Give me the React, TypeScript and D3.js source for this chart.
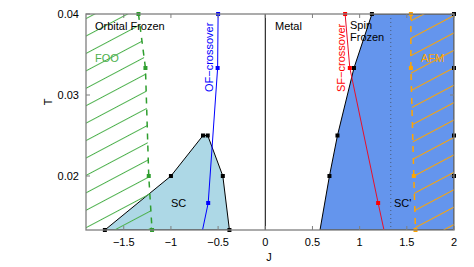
import React from 'react';
import * as d3 from 'd3';

type Pt = { J: number, T: number, mark?: boolean };

// temperatures used in the simulation: T = 1/beta
const tTop = 1 / 25;
const tBottom = 1 / 75;

const xTickValues = [-1.5, -1, -0.5, 0, 0.5, 1, 1.5, 2];
const yTickValues = [0.02, 0.03, 0.04];

const scBoundary: Pt[] = [
  { J: -1.7, T: 1 / 75, mark: true },
  { J: -1.0, T: 1 / 50, mark: true },
  { J: -0.66, T: 1 / 40, mark: true },
  { J: -0.61, T: 1 / 40, mark: true },
  { J: -0.45, T: 1 / 50, mark: true },
  { J: -0.38, T: 1 / 75, mark: true },
];

const metalEdge: Pt[] = [
  { J: 0.58, T: 1 / 75 },
  { J: 0.68, T: 1 / 50, mark: true },
  { J: 0.765, T: 1 / 40, mark: true },
  { J: 0.94, T: 1 / 30, mark: true },
  { J: 1.13, T: 1 / 25, mark: true },
  { J: 2, T: 1 / 25, mark: true },
  { J: 2, T: 1 / 30, mark: true },
  { J: 2, T: 1 / 40, mark: true },
  { J: 2, T: 1 / 50, mark: true },
  { J: 2, T: 1 / 75 },
];

const ofCrossover: Pt[] = [
  { J: -0.5, T: 1 / 25, mark: true },
  { J: -0.505, T: 1 / 30, mark: true },
  { J: -0.605, T: 1 / 60, mark: true },
  { J: -0.68, T: 1 / 80 },
];

const sfCrossover: Pt[] = [
  { J: 0.846, T: 1 / 25, mark: true },
  { J: 0.896, T: 1 / 30, mark: true },
  { J: 1.196, T: 1 / 60, mark: true },
  { J: 1.32, T: 1 / 100 },
];

const fooLine: Pt[] = [
  { J: -1.344, T: 1 / 25, mark: true },
  { J: -1.27, T: 1 / 30, mark: true },
  { J: -1.235, T: 1 / 50, mark: true },
  { J: -1.2, T: 1 / 75, mark: true },
];

const afmLine: Pt[] = [
  { J: 1.543, T: 1 / 25, mark: true },
  { J: 1.543, T: 1 / 30, mark: true },
  { J: 1.574, T: 1 / 50, mark: true },
  { J: 1.592, T: 1 / 75, mark: true },
];

const scPrimeJ = 1.33;

const App: React.FC = () => {
  const width = 474;
  const height = 267;
  const left = 86;
  const right = 454;
  const top = 14;
  const bottom = 230;

  const x = d3.scaleLinear().domain([-1.9, 2]).range([left, right]);
  const y = d3.scaleLinear().domain([tBottom, tTop]).range([bottom, top]);

  const line = d3.line<Pt>().x(d => x(d.J)).y(d => y(d.T));
  const poly = (pts: Pt[]) => line(pts) + 'Z';

  const green = '#2e9e2e';
  const hatchGreen = '#4cb04c';
  const orange = '#ffa500';
  const font = 'Liberation Sans, Arial, sans-serif';
  const grey = '#7f7f7f';

  // regions for the hatching: between plot edge and the freezing lines
  const fooRegion: Pt[] = [{ J: -1.9, T: tTop }, ...fooLine, { J: -1.9, T: tBottom }];
  const afmRegion: Pt[] = [...afmLine, { J: 2, T: tBottom }, { J: 2, T: tTop }];

  const marks = (pts: Pt[], color: string, key: string) =>
    pts.filter(p => p.mark).map((p, i) => (
      <rect key={key + i} x={x(p.J) - 2} y={y(p.T) - 2} width={4} height={4} fill={color} />
    ));

  return (
    <svg width={width} height={height} style={{ position: 'absolute', left: 0, top: 0, background: '#fff' }} fontFamily={font}>
      <defs>
        <clipPath id="plot"><rect x={left} y={top} width={right - left} height={bottom - top} /></clipPath>
        <clipPath id="fooClip"><path d={poly(fooRegion)} /></clipPath>
        <clipPath id="afmClip"><path d={poly(afmRegion)} /></clipPath>
        <pattern id="hatchG" patternUnits="userSpaceOnUse" width={20} height={15.4} patternTransform="rotate(-27.9) translate(0,10)">
          <line x1={-5} x2={25} y1={0.5} y2={0.5} stroke={hatchGreen} strokeWidth={1} />
        </pattern>
        <pattern id="hatchO" patternUnits="userSpaceOnUse" width={20} height={15.4} patternTransform="rotate(-27.9) translate(0,10)">
          <line x1={-5} x2={25} y1={0.5} y2={0.5} stroke={orange} strokeWidth={1} />
        </pattern>
      </defs>

      <g clipPath="url(#plot)">
        <path d={poly(scBoundary)} fill="#add8e6" stroke="#000" strokeWidth={1} />
        <path d={poly(metalEdge)} fill="#6495ed" stroke="#000" strokeWidth={1} />
        <rect x={left} y={top} width={right - left} height={bottom - top} fill="url(#hatchG)" clipPath="url(#fooClip)" />
        <rect x={left} y={top} width={right - left} height={bottom - top} fill="url(#hatchO)" clipPath="url(#afmClip)" />
        <line x1={x(scPrimeJ)} x2={x(scPrimeJ)} y1={top} y2={bottom} stroke="#4a5a7a" strokeWidth={1} strokeDasharray="1 3" />
        <line x1={x(0)} x2={x(0)} y1={top} y2={bottom} stroke="#000" strokeWidth={1} />
        <path d={line(fooLine)!} fill="none" stroke={green} strokeWidth={1.5} strokeDasharray="6 6" />
        <path d={line(afmLine)!} fill="none" stroke={orange} strokeWidth={1.5} strokeDasharray="6 6" />
        <path d={line(ofCrossover)!} fill="none" stroke="#0000ff" strokeWidth={1} />
        <path d={line(sfCrossover)!} fill="none" stroke="#e8102a" strokeWidth={1} />
      </g>

      {marks(scBoundary, '#000', 'sc')}
      {marks(metalEdge, '#000', 'me')}
      {marks(ofCrossover, '#0000ff', 'of')}
      {marks(sfCrossover, '#ff0000', 'sf')}
      {marks(fooLine, green, 'foo')}
      {marks(afmLine, orange, 'afm')}

      {/* frame and ticks */}
      <rect x={left} y={top} width={right - left} height={bottom - top} fill="none" stroke={grey} strokeWidth={1.3} />
      {xTickValues.map(v => (
        <g key={'x' + v}>
          <line x1={x(v)} x2={x(v)} y1={bottom} y2={bottom - 4} stroke={grey} />
          <line x1={x(v)} x2={x(v)} y1={top} y2={top + 4} stroke={grey} />
          <text x={x(v)} y={bottom + 16} fontSize={11} textAnchor="middle" fill="#000">{v < 0 ? '\u2212' + Math.abs(v) : v}</text>
        </g>
      ))}
      {yTickValues.map(v => (
        <g key={'y' + v}>
          <line x1={left} x2={left + 4} y1={y(v)} y2={y(v)} stroke={grey} />
          <line x1={right} x2={right - 4} y1={y(v)} y2={y(v)} stroke={grey} />
          <text x={left - 7} y={y(v) + 4} fontSize={11} textAnchor="end" fill="#000">{v.toFixed(2)}</text>
        </g>
      ))}
      <text x={(left + right) / 2 - 1} y={261} fontSize={11} textAnchor="middle">J</text>
      <text transform={`translate(52, ${(top + bottom) / 2 - 20}) rotate(-90)`} fontSize={11} textAnchor="middle">T</text>

      {/* region labels */}
      <text x={95} y={30} fontSize={11}>Orbital Frozen</text>
      <text x={95} y={62} fontSize={11} fill={hatchGreen}>FOO</text>
      <text x={275} y={30} fontSize={11}>Metal</text>
      <text x={350} y={29} fontSize={11}>Spin</text>
      <text x={350} y={41} fontSize={11}>Frozen</text>
      <text x={421} y={62} fontSize={11} fill={orange}>AFM</text>
      <text x={171} y={207} fontSize={11}>SC</text>
      <text x={394} y={207} fontSize={11}>SC'</text>
      <text transform="translate(213, 92) rotate(-90)" fontSize={11} fill="#0000ff">OF−crossover</text>
      <text transform="translate(345, 92) rotate(-90)" fontSize={11} fill="#ff0000">SF−crossover</text>
    </svg>
  );
};

export default App;
